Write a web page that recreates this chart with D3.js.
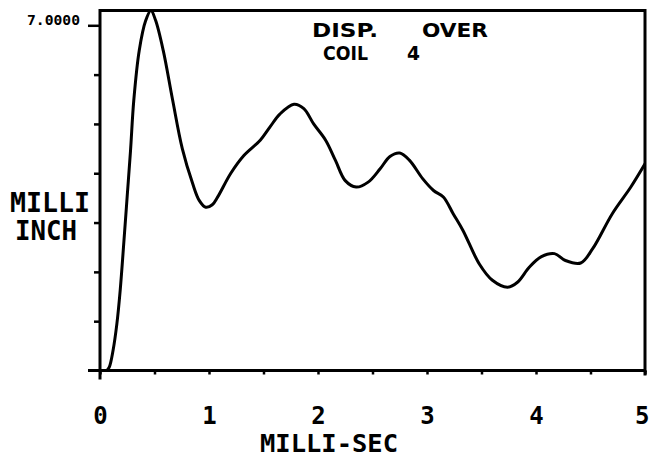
<!DOCTYPE html>
<html>
<head>
<meta charset="utf-8">
<script src="https://cdn.jsdelivr.net/npm/d3@7"></script>
<style>
  body { margin: 0; background: #fff; }
  svg { display: block; }
</style>
</head>
<body>
<svg id="chart" width="650" height="461"></svg>
<script>
// ---- data ----
const timeMs = [0, 0.06, 0.085, 0.12, 0.155, 0.185, 0.22, 0.25, 0.28, 0.31, 0.36, 0.42, 0.467, 0.51, 0.58, 0.665, 0.755, 0.85, 0.91, 0.97, 1.03, 1.08, 1.2, 1.32, 1.47, 1.56, 1.65, 1.78, 1.87, 1.96, 2.07, 2.16, 2.25, 2.35, 2.46, 2.57, 2.66, 2.75, 2.84, 2.96, 3.06, 3.15, 3.24, 3.33, 3.48, 3.6, 3.74, 3.83, 3.94, 4.05, 4.17, 4.27, 4.41, 4.52, 4.7, 4.87, 5.0];
const dispMilliInch = [0, 0, 0.07, 0.41, 0.95, 1.62, 2.64, 3.55, 4.46, 5.48, 6.49, 7.1, 7.3, 7.1, 6.49, 5.5, 4.5, 3.79, 3.45, 3.31, 3.36, 3.52, 4.0, 4.36, 4.67, 4.94, 5.2, 5.4, 5.31, 5.0, 4.67, 4.26, 3.85, 3.72, 3.82, 4.09, 4.34, 4.41, 4.26, 3.89, 3.65, 3.52, 3.18, 2.84, 2.16, 1.83, 1.69, 1.79, 2.10, 2.31, 2.37, 2.23, 2.18, 2.47, 3.18, 3.72, 4.19];
const xTicks = [0, 0.5, 1, 1.5, 2, 2.5, 3, 3.5, 4, 4.5, 5];
const xTickLabels = ["0", "", "1", "", "2", "", "3", "", "4", "", "5"];
const yTicks = [1, 2, 3, 4, 5, 6, 7];
const yTickLabels = ["", "", "", "", "", "", "7.0000"];
const titleLines = [["DISP.", "OVER"], ["COIL", "4"]];
const yLabelLines = ["MILLI", "INCH"];
const xLabel = "MILLI-SEC";

// ---- chart ----
const svg = d3.select("#chart");
const x = d3.scaleLinear().domain([0, 5]).range([100, 645]);
const y = d3.scaleLinear().domain([0, 7.3]).range([370.5, 10.5]);
const ink = "#000";
const mono = "'DejaVu Sans Mono', monospace";

// clip
svg.append("clipPath").attr("id", "clip").append("rect")
  .attr("x", x(0)).attr("y", y(7.3)).attr("width", x(5) - x(0)).attr("height", y(0) - y(7.3));

// y axis ticks
const yAxis = d3.axisLeft(y).tickValues(yTicks).tickSize(6).tickPadding(8)
  .tickFormat((d, i) => yTickLabels[i]);
const gy = svg.append("g").attr("transform", `translate(${x(0)},0)`).call(yAxis);
gy.select(".domain").remove();
gy.selectAll(".tick line").attr("stroke", ink).attr("stroke-width", 2.5)
  .attr("x2", d => d === 7 ? -12 : -6);
gy.selectAll(".tick text").attr("fill", ink).attr("font-family", mono)
  .attr("font-weight", "bold").attr("font-size", 14)
  .attr("x", -20).attr("dy", "-0.05em").attr("textLength", 53).attr("lengthAdjust", "spacingAndGlyphs");

// x axis ticks
const xAxis = d3.axisBottom(x).tickValues(xTicks).tickSize(4)
  .tickFormat((d, i) => xTickLabels[i]);
const gx = svg.append("g").attr("transform", `translate(0,${y(0)})`).call(xAxis);
gx.select(".domain").remove();
gx.selectAll(".tick line").attr("stroke", ink).attr("stroke-width", 2.5);
gx.selectAll(".tick text").attr("fill", ink).attr("font-family", mono)
  .attr("font-weight", "bold").attr("font-size", 24)
  .attr("y", 53).attr("dy", 0)
  .attr("text-anchor", d => d === 5 ? "end" : "middle")
  .attr("x", d => d === 5 ? 4 : 0);

// frame
svg.append("rect")
  .attr("x", x(0)).attr("y", y(7.3))
  .attr("width", x(5) - x(0)).attr("height", y(0) - y(7.3))
  .attr("fill", "none").attr("stroke", ink).attr("stroke-width", 3);
// axis extensions beyond origin
svg.append("line").attr("x1", x(0) - 12).attr("x2", x(0)).attr("y1", y(0)).attr("y2", y(0))
  .attr("stroke", ink).attr("stroke-width", 3);
svg.append("line").attr("x1", x(0)).attr("x2", x(0)).attr("y1", y(0)).attr("y2", y(0) + 9)
  .attr("stroke", ink).attr("stroke-width", 3);
svg.append("line").attr("x1", x(5)).attr("x2", x(5)).attr("y1", y(0)).attr("y2", y(0) + 5)
  .attr("stroke", ink).attr("stroke-width", 3);

// curve
const pts = timeMs.map((t, i) => [t, dispMilliInch[i]]);
const line = d3.line().x(d => x(d[0])).y(d => y(d[1])).curve(d3.curveCatmullRom.alpha(0.5));
svg.append("path").datum(pts).attr("clip-path", "url(#clip)")
  .attr("d", line).attr("fill", "none").attr("stroke", ink)
  .attr("stroke-width", 3).attr("stroke-linejoin", "round").attr("stroke-linecap", "round");

// title
const titleSpec = [
  { t: titleLines[0][0], x: 312, y: 37, w: 66 },
  { t: titleLines[0][1], x: 422, y: 37, w: 66 },
  { t: titleLines[1][0], x: 323, y: 60, w: 45 },
  { t: titleLines[1][1], x: 407, y: 60, w: 13 }
];
svg.selectAll("text.title").data(titleSpec).enter().append("text")
  .attr("class", "title")
  .attr("x", d => d.x).attr("y", d => d.y)
  .attr("textLength", d => d.w).attr("lengthAdjust", "spacingAndGlyphs")
  .attr("font-family", "'DejaVu Sans', sans-serif").attr("font-weight", "bold")
  .attr("font-size", 20).attr("fill", ink).text(d => d.t);

// y label
const ySpec = [
  { t: yLabelLines[0], x: 10, y: 212, w: 80 },
  { t: yLabelLines[1], x: 15, y: 240, w: 62 }
];
svg.selectAll("text.ylab").data(ySpec).enter().append("text")
  .attr("class", "ylab")
  .attr("x", d => d.x).attr("y", d => d.y)
  .attr("textLength", d => d.w).attr("lengthAdjust", "spacingAndGlyphs")
  .attr("font-family", mono).attr("font-weight", "bold")
  .attr("font-size", 26).attr("fill", ink).text(d => d.t);

// x label
svg.append("text").attr("x", 260).attr("y", 452)
  .attr("textLength", 138).attr("lengthAdjust", "spacingAndGlyphs")
  .attr("font-family", mono).attr("font-weight", "bold")
  .attr("font-size", 25).attr("fill", ink).text(xLabel);
</script>
</body>
</html>
